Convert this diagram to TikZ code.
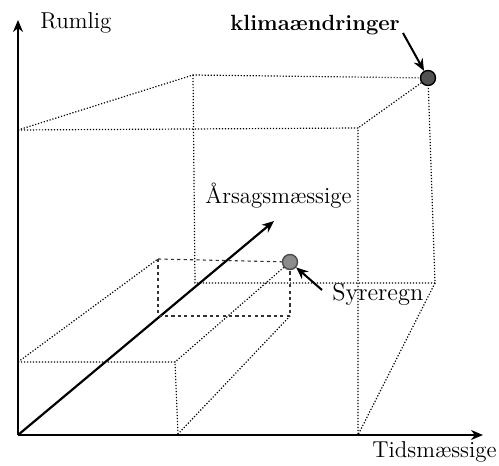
\documentclass[tikz,border=0pt]{standalone}
\usepackage{xcolor}
\usepackage{tikz}
\usetikzlibrary{arrows.meta}

\begin{document}
\begin{tikzpicture}[x=0.5pt,y=-0.5pt,>={Stealth[length=6pt,width=5pt]},
every node/.style={font=\fontsize{11.5}{14}\selectfont,inner sep=0pt},
axis/.style={line width=1.1pt},
edge/.style={line width=0.6pt,dash pattern=on 0.6pt off 0.9pt},
hidden/.style={line width=0.55pt,black!80,dash pattern=on 1.6pt off 1.6pt},
dot/.style={circle,draw=black,line width=0.7pt,minimum size=7.5pt}]
\useasboundingbox (0,0) rectangle (499,466);
% axes
\coordinate (O) at (18,435);
\coordinate (ytop) at (18,20);
\coordinate (xend) at (483,435);
\coordinate (zend) at (274,221);
\draw[axis,->] (O) -- (ytop);
\draw[axis,->] (O) -- (xend);
\draw[axis,->] (O) -- (zend);
\node[anchor=base west] (rumlig) at (40,28) {Rumlig};
\node[anchor=base west] (tids) at (372,457) {Tidsmæssige};
\node[anchor=base west] (aarsag) at (205,203) {Årsagsmæssige};
% large box
\node[dot,fill=black!68] (klima) at (428,78) {};
\coordinate (fTL) at (18,130);
\coordinate (fTR) at (358,128);
\coordinate (fBR) at (358,435);
\coordinate (bTL) at (193,75);
\coordinate (bBL) at (195,283);
\coordinate (bBR) at (435,283);
\draw[edge] (fTL) -- (fTR) -- (fBR);
\draw[edge] (fTL) -- (bTL) -- (klima);
\draw[edge] (bTL) -- (bBL) -- (bBR) -- (klima);
\draw[edge] (klima) -- (fTR);
\draw[edge] (bBR) -- (fBR);
% small box
\node[dot,fill=black!45,draw=black!70] (syre) at (290,262) {};
\coordinate (sTL) at (18,362);
\coordinate (sTR) at (175,362);
\coordinate (sBR) at (178,434);
\coordinate (sbTL) at (158,259);
\coordinate (sbBL) at (158,316);
\coordinate (sbBR) at (290,316);
\draw[edge] (sTL) -- (sTR) -- (sBR);
\draw[edge] (sTL) -- (sbTL);
\draw[edge] (syre) -- (sTR);
\draw[edge] (sbBR) -- (sBR);
\draw[hidden] (sbTL) -- (syre);
\draw[hidden] (sbTL) -- (sbBL) -- (sbBR) -- (syre);
% labels with pointers
\node[anchor=base west,font=\fontsize{11}{14}\selectfont\bfseries] (klimatxt) at (230,31) {klimaændringer};
\node[anchor=base west,font=\fontsize{12.2}{14}\selectfont] (syretxt) at (332,300) {Syreregn};
\coordinate (ka) at (403,33);
\coordinate (sa) at (322,290);
\draw[line width=1pt,->] (ka) -- (klima);
\draw[line width=1pt,->] (sa) -- (syre);
\end{tikzpicture}
\end{document}
